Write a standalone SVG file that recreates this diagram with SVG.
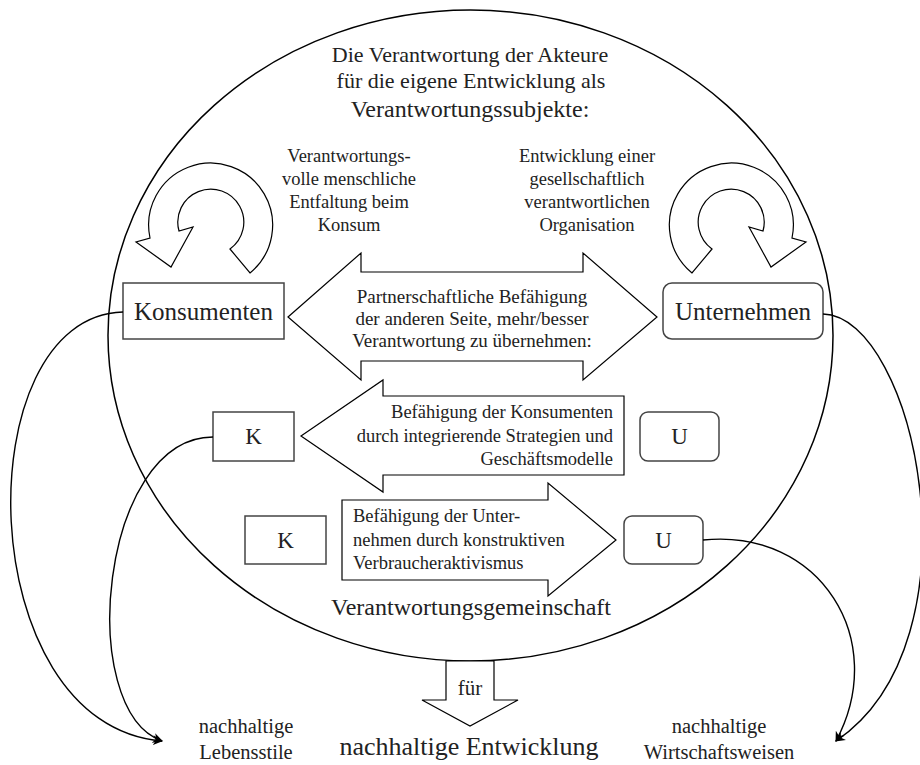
<svg xmlns="http://www.w3.org/2000/svg" width="920" height="765" viewBox="0 0 920 765">
<defs>
<style>
text{font-family:"Times New Roman","Liberation Serif",Tinos,"Noto Serif","DejaVu Serif",serif;fill:#222;}
.m{text-anchor:middle;}
.shape{fill:#fff;stroke:#000;stroke-width:1.2;}
.box{fill:#fff;stroke:#444;stroke-width:1.5;}
.con{fill:none;stroke:#000;stroke-width:1.4;}
</style>
<marker id="ah" viewBox="0 0 10 10" refX="9" refY="5" markerWidth="10" markerHeight="10" markerUnits="userSpaceOnUse" orient="auto">
<path d="M0,0 L10,5 L0,10 L3,5 Z" fill="#000"/>
</marker>
</defs>
<rect width="920" height="765" fill="#fff"/>

<g id="community">
<ellipse cx="470.5" cy="335.5" rx="362.5" ry="325.5" fill="none" stroke="#000" stroke-width="1.5"/>
<text class="m" x="470" y="62" font-size="22">Die Verantwortung der Akteure</text>
<text class="m" x="471" y="88" font-size="22">für die eigene Entwicklung als</text>
<text class="m" x="470" y="117" font-size="24">Verantwortungssubjekte:</text>
<text class="m" x="471" y="615" font-size="24">Verantwortungsgemeinschaft</text>
</g>

<g id="self-konsumenten">
<path class="shape" d="M250,273 A62,62 0 1 0 150,238 L136,242 L171,267 L193,227 L179,231 A33,33 0 1 1 230,249 Z"/>
<text class="m" font-size="18.5"><tspan x="349" y="162">Verantwortungs-</tspan><tspan x="349" y="185">volle menschliche</tspan><tspan x="349" y="208">Entfaltung beim</tspan><tspan x="349" y="231">Konsum</tspan></text>
</g>

<g id="self-unternehmen">
<path class="shape" d="M692,273 A62,62 0 1 1 792,238 L806,242 L771,267 L749,227 L763,231 A33,33 0 1 0 712,249 Z"/>
<text class="m" font-size="18.5"><tspan x="587" y="162">Entwicklung einer</tspan><tspan x="587" y="185">gesellschaftlich</tspan><tspan x="587" y="208">verantwortlichen</tspan><tspan x="587" y="231">Organisation</tspan></text>
</g>

<g id="partnerschaft">
<polygon class="shape" points="288,317 361,253 361,272 583,272 583,253 657,317 583,380 583,361 361,361 361,380"/>
<text class="m" font-size="19"><tspan x="472" y="303">Partnerschaftliche Befähigung</tspan><tspan x="472" y="325">der anderen Seite, mehr/besser</tspan><tspan x="472" y="347">Verantwortung zu übernehmen:</tspan></text>
</g>

<g id="konsumenten">
<rect class="box" x="123" y="283" width="161" height="56"/>
<text class="m" x="203.5" y="320" font-size="25">Konsumenten</text>
</g>

<g id="unternehmen">
<rect class="box" x="663" y="283" width="160" height="56" rx="9"/>
<text class="m" x="743" y="320" font-size="25">Unternehmen</text>
</g>

<g id="befaehigung-konsumenten">
<polygon class="shape" points="301,436 383,380 383,396 624,396 624,475 383,475 383,492"/>
<text font-size="18.5" text-anchor="end"><tspan x="613" y="418">Befähigung der Konsumenten</tspan><tspan x="613" y="442">durch integrierende Strategien und</tspan><tspan x="613" y="465">Geschäftsmodelle</tspan></text>
</g>

<g id="k1">
<rect class="box" x="213" y="412" width="81" height="49"/>
<text class="m" x="253.5" y="444" font-size="23">K</text>
</g>

<g id="u1">
<rect class="box" x="640" y="412" width="79" height="49" rx="8"/>
<text class="m" x="679.5" y="444" font-size="23">U</text>
</g>

<g id="befaehigung-unternehmen">
<polygon class="shape" points="342,500 548,500 548,483 616,540 548,596 548,580 342,580"/>
<text font-size="18.5"><tspan x="353" y="522">Befähigung der Unter-</tspan><tspan x="353" y="546">nehmen durch konstruktiven</tspan><tspan x="353" y="569">Verbraucheraktivismus</tspan></text>
</g>

<g id="k2">
<rect class="box" x="245" y="516" width="81" height="48"/>
<text class="m" x="285.5" y="548" font-size="23">K</text>
</g>

<g id="u2">
<rect class="box" x="624" y="516" width="79" height="48" rx="8"/>
<text class="m" x="663.5" y="548" font-size="23">U</text>
</g>

<g id="fuer">
<polygon class="shape" points="446,661 494,661 494,700 518,700 470,726 422,700 446,700"/>
<text class="m" x="470" y="695" font-size="21">für</text>
</g>

<g id="entwicklung">
<text class="m" x="469" y="755" font-size="26">nachhaltige Entwicklung</text>
</g>

<g id="lebensstile">
<text class="m" font-size="20.5"><tspan x="246" y="733">nachhaltige</tspan><tspan x="246" y="759">Lebensstile</tspan></text>
</g>

<g id="wirtschaftsweisen">
<text class="m" font-size="20.5"><tspan x="719" y="733">nachhaltige</tspan><tspan x="719" y="759">Wirtschaftsweisen</tspan></text>
</g>

<g id="connectors">
<path class="con" d="M123,312 C-35,316 -30,725 162,741" marker-end="url(#ah)"/>
<path class="con" d="M213,437 C100,437 75,710 162,741" marker-end="url(#ah)"/>
<path class="con" d="M823,314 C915,316 985,640 836,741" marker-end="url(#ah)"/>
<path class="con" d="M703,540 C820,528 890,640 836,741" marker-end="url(#ah)"/>
</g>
</svg>
